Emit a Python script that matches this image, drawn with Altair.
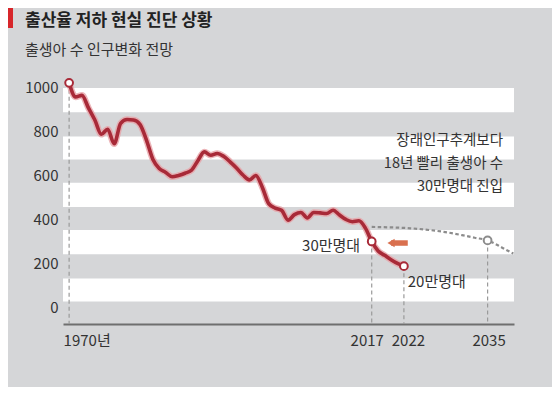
import altair as alt
import pandas as pd

# ---- data ----
years = list(range(1970, 2023))
births = [1019, 955, 962, 905, 850, 785, 808, 742, 835, 852,
          850, 830, 760, 672, 630, 612, 592, 598, 608, 622,
          665, 705, 690, 698, 685, 660, 632, 600, 578, 598,
          545, 470, 450, 440, 395, 420, 430, 405, 430, 428,
          425, 440, 418, 398, 388, 392, 360, 298, 255, 235,
          215, 198, 186]

proj_years = [2017, 2020, 2023, 2026, 2029, 2031, 2033, 2035, 2036, 2037, 2038, 2039]
proj_vals = [364, 362, 358, 350, 338, 327, 315, 303, 290, 274, 258, 243]

marker_years = [1970, 2017, 2022, 2035]
marker_vals = [1019, 298, 186, 303]
marker_kind = ["actual", "actual", "actual", "projection"]

band_low = [25, 240, 455, 670, 885]
band_high = [130, 350, 565, 775, 995]

y_ticks = [0, 200, 400, 600, 800, 1000]
x_ticks = [1970, 2017, 2022, 2035]

note_lines = ["장래인구추계보다", "18년 빨리 출생아 수", "30만명대 진입"]
note_vals = [755, 650, 545]
note_year = 2037.4

label_texts = ["30만명대", "20만명대"]
label_years = [2015.2, 2022.6]
label_vals = [277, 114]
label_align = ["right", "left"]

arrow_from = 2022.6
arrow_to = 2020.0
arrow_val = 291

title = "출산율 저하 현실 진단 상황"
subtitle = "출생아 수 인구변화 전망"

# ---- styling ----
BG = "#d5d6d8"
RED = "#a82a38"
HALO = "#e7a2a8"
GRAY = "#8c8c8c"
FONT = "Noto Sans CJK KR"
TXT = "#333333"

W, H = 451, 259
xdom = [1969.05, 2039.1]
ydom = [-77, 1100]

xs = alt.Scale(domain=xdom, nice=False, zero=False)
ys = alt.Scale(domain=ydom, nice=False, zero=False)

df_line = pd.DataFrame({"year": years, "births": births})
df_proj = pd.DataFrame({"year": proj_years, "births": proj_vals})
df_mark = pd.DataFrame({"year": marker_years, "births": marker_vals, "kind": marker_kind,
                        "bottom": [ydom[0]] * len(marker_years)})
df_band = pd.DataFrame({"lo": band_low, "hi": band_high})
df_note = pd.DataFrame({"text": note_lines, "births": note_vals, "year": [note_year] * 3})
df_lab = pd.DataFrame({"text": label_texts, "year": label_years, "births": label_vals,
                       "align": label_align})
df_arrow = pd.DataFrame({"x1": [arrow_to], "x2": [arrow_from], "births": [arrow_val]})
df_head = pd.DataFrame({"text": [title, subtitle]})

x_axis = alt.Axis(values=x_ticks, title=None, grid=False, ticks=False,
                  domainColor="#6f6f6f", domainWidth=2.2, labelOverlap=False,
                  labelFont=FONT, labelFontSize=15, labelColor=TXT, labelPadding=9,
                  labelExpr="datum.value == 1970 ? '1970년' : datum.value",
                  labelAlign={"condition": {"test": "datum.value == 1970", "value": "left"},
                              "value": "center"},
                  labelOffset=alt.ExprRef(expr="0") if False else
                  {"condition": [{"test": "datum.value == 1970", "value": -6},
                                 {"test": "datum.value == 2017", "value": -5},
                                 {"test": "datum.value == 2022", "value": 4}],
                   "value": 1})
y_axis = alt.Axis(values=y_ticks, title=None, grid=False, ticks=False, domain=False,
                  labelOverlap=False, labelExpr="datum.value",
                  labelFont=FONT, labelFontSize=15, labelColor=TXT, labelPadding=5)

bands = alt.Chart(df_band).mark_rect(color="#ffffff").encode(
    x=alt.value(0), x2=alt.value(W),
    y=alt.Y("lo:Q", scale=ys, axis=y_axis), y2="hi:Q")

base_x = alt.X("year:Q", scale=xs, axis=x_axis)

vlines = alt.Chart(df_mark).mark_rule(color="#9a9a9a", strokeDash=[4, 3], strokeWidth=1.2).encode(
    x=alt.X("year:Q", scale=xs), y=alt.Y("births:Q", scale=ys), y2="bottom:Q")

proj = alt.Chart(df_proj).mark_line(color=GRAY, strokeDash=[3.5, 2.5], strokeWidth=2.2,
                                    interpolate="monotone").encode(
    x=base_x, y=alt.Y("births:Q", scale=ys))

halo = alt.Chart(df_line).mark_line(color=HALO, strokeWidth=6.5, opacity=0.8,
                                    interpolate="monotone", strokeJoin="round").encode(
    x=alt.X("year:Q", scale=xs), y=alt.Y("births:Q", scale=ys))
line = alt.Chart(df_line).mark_line(color=RED, strokeWidth=3.6,
                                    interpolate="monotone", strokeJoin="round").encode(
    x=alt.X("year:Q", scale=xs), y=alt.Y("births:Q", scale=ys))

points = alt.Chart(df_mark).mark_point(filled=False, fill="#ffffff", fillOpacity=1,
                                       size=60, strokeWidth=2, opacity=1).encode(
    x=alt.X("year:Q", scale=xs), y=alt.Y("births:Q", scale=ys),
    stroke=alt.Color("kind:N", scale=alt.Scale(domain=["actual", "projection"],
                                               range=[RED, GRAY]), legend=None))

arrow_body = alt.Chart(df_arrow).mark_rule(color="#d9704f", strokeWidth=5.5).encode(
    x=alt.X("x1:Q", scale=xs), x2="x2:Q", y=alt.Y("births:Q", scale=ys))
arrow_head = alt.Chart(df_arrow).mark_point(shape="triangle-left", filled=True,
                                            color="#d9704f", size=70, opacity=1).encode(
    x=alt.X("x1:Q", scale=xs), y=alt.Y("births:Q", scale=ys))

notes = alt.Chart(df_note).mark_text(align="right", baseline="middle", font=FONT,
                                     fontSize=14.5, color=TXT).encode(
    x=alt.X("year:Q", scale=xs), y=alt.Y("births:Q", scale=ys), text="text:N")

lab_r = alt.Chart(df_lab[df_lab["align"] == "right"]).mark_text(
    align="right", baseline="middle", font=FONT, fontSize=15, color=TXT).encode(
    x=alt.X("year:Q", scale=xs), y=alt.Y("births:Q", scale=ys), text="text:N")
lab_l = alt.Chart(df_lab[df_lab["align"] == "left"]).mark_text(
    align="left", baseline="middle", font=FONT, fontSize=15, color=TXT).encode(
    x=alt.X("year:Q", scale=xs), y=alt.Y("births:Q", scale=ys), text="text:N")

title_mark = alt.Chart(df_head.iloc[[0]]).mark_text(
    align="left", baseline="middle", font=FONT, fontSize=17, fontWeight="bold",
    color="#222222").encode(x=alt.value(-38), y=alt.value(-44), text="text:N")
subtitle_mark = alt.Chart(df_head.iloc[[1]]).mark_text(
    align="left", baseline="middle", font=FONT, fontSize=15,
    color=TXT).encode(x=alt.value(-38), y=alt.value(-15), text="text:N")

redbar = alt.Chart(pd.DataFrame({"k": [0]})).mark_rect(color="#d7262b").encode(
    x=alt.value(-55), x2=alt.value(-50), y=alt.value(-57), y2=alt.value(-37))

chart = alt.layer(bands, vlines, proj, halo, line, points, arrow_body, arrow_head,
                  notes, lab_r, lab_l, title_mark, subtitle_mark, redbar).properties(
    width=W, height=H,
    background=BG,
    padding={"left": 55, "top": 57, "right": 38, "bottom": 63},
    autosize=alt.AutoSizeParams(type="none"),
).configure_view(stroke=None)

chart.save("out.html", embed_options={"renderer": "svg", "actions": False})
